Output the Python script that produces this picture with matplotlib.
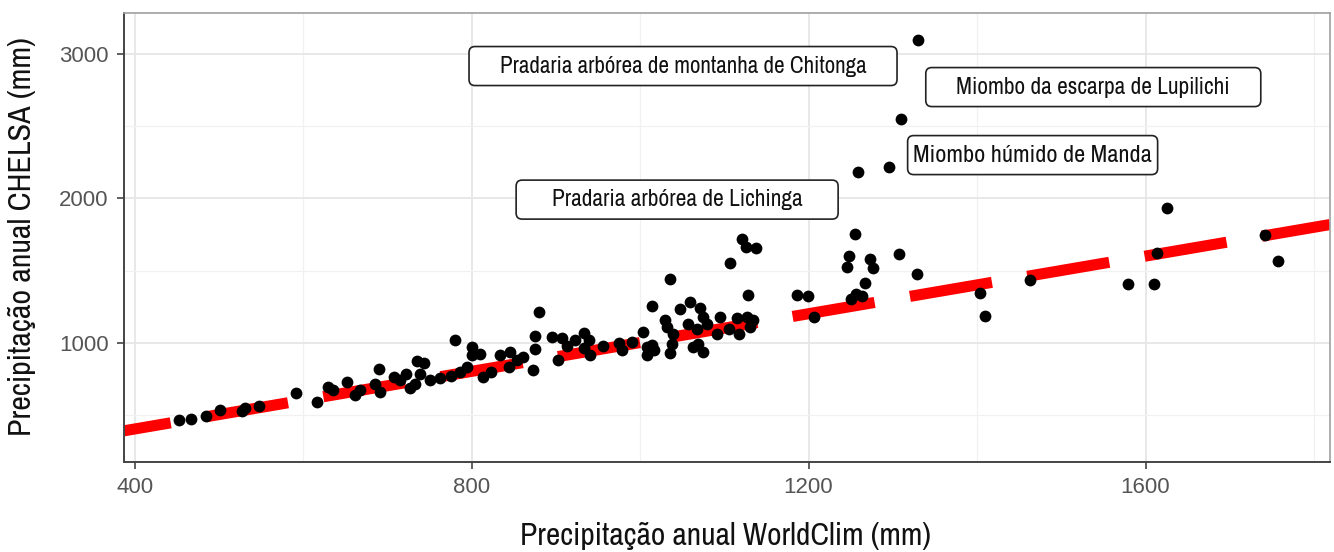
import matplotlib
matplotlib.use("Agg")
import matplotlib.pyplot as plt
from matplotlib.patches import FancyBboxPatch
from matplotlib.ticker import MultipleLocator
from matplotlib import font_manager
import numpy as np

# ---------------- data ----------------
worldclim = [453, 467, 485, 501, 528, 531, 548, 592, 617, 630, 636,
             652, 662, 667, 685, 690, 691, 708, 715, 722, 727, 733, 735, 743, 739, 751, 763, 776, 780, 786,
             794, 800, 801, 810, 814, 823, 834, 846, 844, 854,
             880, 873, 875, 875, 861, 895, 907, 903, 913, 923, 933, 939, 941, 933, 956, 975, 978, 990, 1004,
             1014, 1008, 1014,
             1036, 1107, 1121, 1126, 1138, 1128, 1047, 1059, 1071, 1030, 1032, 1039, 1008, 1016, 1035, 1038,
             1057, 1067, 1075, 1079, 1063, 1069, 1075, 1091, 1095, 1105, 1115, 1117, 1127, 1134, 1130,
             1186, 1199, 1206, 1255, 1248, 1246, 1273, 1277, 1267, 1256, 1263, 1250, 1307, 1329,
             1330, 1310, 1295, 1259,
             1626, 1614, 1579, 1610, 1403, 1409, 1463, 1742, 1757]
chelsa = [465, 467, 493, 530, 523, 549, 557, 650, 587, 692, 674,
          726, 634, 669, 715, 817, 657, 761, 738, 780, 687, 715, 872, 858, 780, 738, 757, 766, 1016, 796,
          831, 969, 912, 919, 761, 796, 912, 935, 831, 877,
          1213, 808, 1044, 958, 900, 1039, 1035, 877, 974, 1016, 1067, 1016, 912, 965, 974, 997, 947, 1004,
          1074, 1252, 912, 981,
          1444, 1549, 1722, 1664, 1653, 1328, 1236, 1282, 1243, 1155, 1108, 1062, 969, 947, 924, 993,
          1132, 1097, 1178, 1132, 969, 993, 935, 1062, 1178, 1097, 1167, 1062, 1178, 1155, 1108,
          1328, 1322, 1174, 1752, 1599, 1521, 1583, 1514, 1410, 1335, 1322, 1299, 1618, 1474,
          3101, 2551, 2215, 2183,
          1937, 1624, 1404, 1404, 1345, 1184, 1435, 1748, 1565]

# reference line (1:1)
line_slope = 1.0
line_intercept = 0.0

label_texts = ["Pradaria arbórea de montanha de Chitonga",
               "Miombo da escarpa de Lupilichi",
               "Miombo húmido de Manda",
               "Pradaria arbórea de Lichinga"]
label_x = [1051, 1538, 1466, 1044]
label_y = [2919, 2773, 2301, 1992]
label_box_w = [428, 335, 250, 322]     # px, box widths as in reference
label_text_w = [368, 274, 238, 252]    # px, text widths as in reference

xticks = [400, 800, 1200, 1600]
yticks = [1000, 2000, 3000]
xlabel = "Precipitação anual WorldClim (mm)"
ylabel = "Precipitação anual CHELSA (mm)"

# ---------------- font choice: prefer a condensed face ----------------
cond_family = None
cond_stretch = "normal"
for f in font_manager.fontManager.ttflist:
    nm = f.name
    if "Narrow" in nm or "Condensed" in nm:
        cond_family = nm
        break
if cond_family is None:
    for f in font_manager.fontManager.ttflist:
        st = str(f.stretch)
        if st in ("condensed", "semi-condensed", "extra-condensed") or st in ("500", "625", "750", "375"):
            if f.style == "normal" and f.weight in (400, "normal", "regular"):
                cond_family = f.name
                cond_stretch = "condensed"
                break
if cond_family is None:
    cond_family = "Roboto"
cond = [cond_family, "DejaVu Sans"]

# ---------------- figure ----------------
plt.rcParams['lines.scale_dashes'] = False
W, H = 1334, 552
fig = plt.figure(figsize=(W / 100, H / 100), dpi=100)
fig.patch.set_facecolor("white")
L, R, T, B = 124, 1330, 13.3, 462
ax = fig.add_axes([L / W, 1 - B / H, (R - L) / W, (B - T) / H])
ax.set_xlim(387.4, 1819)
ax.set_ylim(171, 3285)

ax.xaxis.set_minor_locator(MultipleLocator(200))
ax.yaxis.set_minor_locator(MultipleLocator(500))
ax.set_xticks(xticks)
ax.set_yticks(yticks)
ax.set_xticklabels([str(v) for v in xticks])
ax.set_yticklabels([str(v) for v in yticks])
ax.grid(True, which="major", color="#E6E6E6", lw=1.3, zorder=0)
ax.grid(True, which="minor", color="#F1F1F1", lw=0.9, zorder=0)
ax.set_axisbelow(True)

ax.tick_params(axis="both", which="major", length=5, width=1.2, color="#444444",
               labelsize=16, labelcolor="#555555", pad=6)
ax.tick_params(axis="both", which="minor", length=0)
for lab in ax.get_xticklabels() + ax.get_yticklabels():
    lab.set_family(["Liberation Sans", "DejaVu Sans"])

for s in ["left", "bottom"]:
    ax.spines[s].set_color("#444444")
    ax.spines[s].set_linewidth(1.4)
for s in ["top", "right"]:
    ax.spines[s].set_color("#A0A0A0")
    ax.spines[s].set_linewidth(1.2)

# dashed 1:1 line
xl = np.array(ax.get_xlim())
ax.plot(xl, line_intercept + line_slope * xl, color="#FF0000", lw=8.0,
        linestyle=(25.8, (59.9, 25.8)), solid_capstyle="butt", zorder=2)

# points
ax.scatter(worldclim, chelsa, s=72, color="black", linewidths=0, zorder=3)

fig.canvas.draw()
renderer = fig.canvas.get_renderer()


def fit_width(t, target, horizontal=True, max_size=None):
    bb = t.get_window_extent(renderer=renderer)
    cur = bb.width if horizontal else bb.height
    size = t.get_fontsize() * target / cur
    if max_size is not None:
        size = min(size, max_size)
    t.set_fontsize(size)


# labels with boxes
for txt, x, y, bw, tw in zip(label_texts, label_x, label_y, label_box_w, label_text_w):
    t = ax.text(x, y, txt, ha="center", va="center", fontsize=16.5, family=cond,
                fontstretch=cond_stretch, color="#111111", zorder=6)
    fit_width(t, tw, max_size=21)
    cx, cy = ax.transData.transform((x, y))
    h = 39
    patch = FancyBboxPatch((cx - bw / 2, cy - h / 2), bw, h,
                           boxstyle="round,pad=0,rounding_size=6",
                           transform=None, facecolor="white", edgecolor="#222222",
                           lw=1.2, zorder=5)
    ax.add_artist(patch)

tx = fig.text(726 / W, 1 - 536 / H, xlabel, ha="center", va="center", fontsize=22, family=cond,
              fontstretch=cond_stretch, color="#111111")
fit_width(tx, 410, max_size=27)
ty = fig.text(22 / W, 1 - 237 / H, ylabel, ha="center", va="center", rotation=90, fontsize=22,
              family=cond, fontstretch=cond_stretch, color="#111111")
fit_width(ty, 400, horizontal=False, max_size=27)

fig.savefig("out.png", dpi=100)
